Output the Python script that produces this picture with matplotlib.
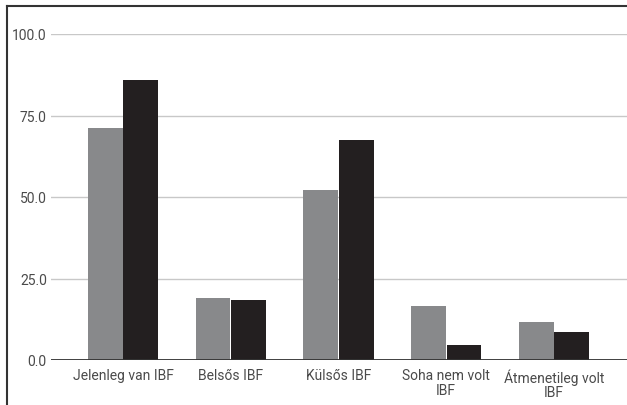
import matplotlib.pyplot as plt
import numpy as np

categories = ['Jelenleg van IBF', 'Belsős IBF', 'Külsős IBF', 'Soha nem volt\nIBF', 'Átmenetileg volt\nIBF']
series_a = [71.2, 19.0, 52.1, 16.7, 11.7]
series_b = [85.9, 18.4, 67.5, 4.7, 8.7]
yticks = [0, 25, 50, 75, 100]

plt.rcParams['font.family'] = ['Roboto', 'DejaVu Sans']
plt.rcParams['font.weight'] = 'regular'

W, H = 627, 406
fig = plt.figure(figsize=(W / 100, H / 100), dpi=100)

# plot area in pixel coordinates
left, right, top, bottom = 51, 627, 35, 361
ax = fig.add_axes([left / W, 1 - bottom / H, (right - left) / W, (bottom - top) / H])

x = np.arange(len(categories))
w = 0.322
ax.bar(x - w / 2 - 0.004, series_a, w, color='#88898b', zorder=3)
ax.bar(x + w / 2 + 0.004, series_b, w, color='#231f20', zorder=3)

ax.set_xlim(-0.668, 4.678)
ax.set_ylim(0, 100)
ax.set_yticks(yticks)
ax.set_yticklabels(['%.1f' % t for t in yticks])
ax.set_xticks(x)
ax.set_xticklabels(categories, linespacing=1.05)

ax.grid(axis='y', color='#c8c8c8', linewidth=1, zorder=0)
ax.axhline(0, color='#333333', linewidth=1.3, zorder=4)
for s in ax.spines.values():
    s.set_visible(False)
ax.tick_params(length=0, labelsize=10, colors='#4a4a4a')
ax.tick_params(axis='y', pad=3)
ax.tick_params(axis='x', pad=6)

# outer frame (left and top edges)
fig.add_artist(plt.Line2D([6.5 / W, 6.5 / W], [0, 1 - 6.5 / H], color='#333333', lw=1.5))
fig.add_artist(plt.Line2D([6.5 / W, 1], [1 - 6.5 / H, 1 - 6.5 / H], color='#333333', lw=1.5))

plt.savefig('out.png', dpi=100)
plt.close()
